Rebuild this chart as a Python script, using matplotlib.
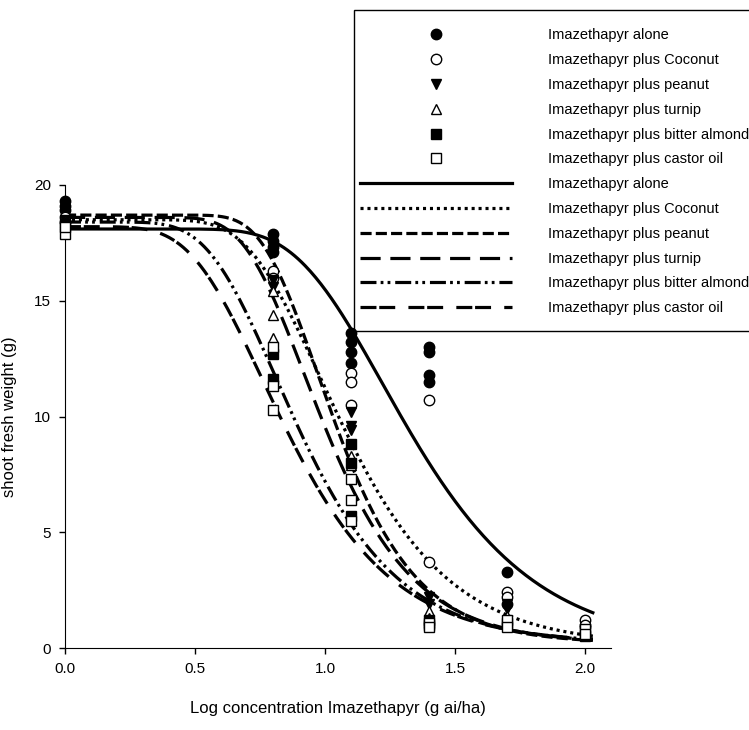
import numpy as np
import matplotlib.pyplot as plt
from matplotlib.patches import Rectangle

plt.rcParams['font.family'] = ['Liberation Sans', 'DejaVu Sans']
plt.rcParams['lines.scale_dashes'] = False

labels = ['Imazethapyr alone', 'Imazethapyr plus Coconut', 'Imazethapyr plus peanut',
          'Imazethapyr plus turnip', 'Imazethapyr plus bitter almond', 'Imazethapyr plus castor oil']

# observed shoot fresh weight (g) at log concentration
alone_x = [0, 0, 0, .8, .8, .8, .8, 1.1, 1.1, 1.1, 1.1, 1.4, 1.4, 1.4, 1.4, 1.7, 1.7, 2.0]
alone_y = [19.3, 19.1, 18.9, 17.9, 17.6, 17.3, 17.1, 13.6, 13.2, 12.8, 12.3, 13.0, 12.8, 11.8, 11.5, 3.3, 1.9, 0.9]
coconut_x = [0, 0, .8, .8, 1.1, 1.1, 1.1, 1.4, 1.4, 1.7, 1.7, 2.0, 2.0]
coconut_y = [18.6, 18.4, 16.3, 16.0, 11.9, 11.5, 10.5, 10.7, 3.7, 2.4, 2.2, 1.2, 1.0]
peanut_x = [0, .8, .8, 1.1, 1.1, 1.1, 1.4, 1.4, 1.7, 1.7, 2.0]
peanut_y = [18.5, 15.9, 15.6, 10.2, 9.6, 9.4, 2.2, 1.9, 1.9, 1.7, 0.5]
turnip_x = [0, .8, .8, .8, 1.1, 1.1, 1.4, 1.4, 1.7, 2.0]
turnip_y = [18.4, 15.4, 14.4, 13.4, 8.3, 7.9, 1.6, 1.3, 1.4, 0.7]
almond_x = [0, .8, .8, 1.1, 1.1, 1.1, 1.4, 1.4, 1.7, 2.0]
almond_y = [18.3, 12.7, 11.6, 8.8, 8.0, 5.7, 1.2, 1.0, 1.1, 0.5]
castor_x = [0, 0, .8, .8, .8, 1.1, 1.1, 1.1, 1.4, 1.4, 1.7, 1.7, 2.0, 2.0]
castor_y = [17.9, 18.2, 13.0, 11.3, 10.3, 7.3, 6.4, 5.5, 1.1, 0.9, 1.2, 0.9, 0.8, 0.6]

# fitted Weibull-type curves: upper, slope, location, lower
fit_top = [18.1, 18.5, 18.7, 18.6, 18.4, 18.2]
fit_slope = [3.0, 3.6, 4.7, 4.3, 3.8, 3.6]
fit_mid = [1.22, 0.98, 0.97, 0.92, 0.81, 0.76]
fit_low = [0.0, 0.1, 0.2, 0.2, 0.2, 0.2]

xs = [alone_x, coconut_x, peanut_x, turnip_x, almond_x, castor_x]
ys = [alone_y, coconut_y, peanut_y, turnip_y, almond_y, castor_y]
markers = ['o', 'o', 'v', '^', 's', 's']
faces = ['k', 'w', 'k', 'w', 'k', 'w']
styles = ['-', (0, (2.2, 2.8)), (0, (8, 3)), (0, (14.5, 7)),
          (0, (11.5, 3, 2, 3, 2, 3.5)), (0, (11.5, 2, 11.5, 9.5))]

fig = plt.figure(figsize=(7.49, 7.30), dpi=100)
ax = fig.add_axes([0.0868, 0.1123, 0.7290, 0.6343])

xc = np.linspace(0, 2.03, 300)
line_handles = []
for i in range(6):
    u = np.exp(-fit_slope[i] * (xc - fit_mid[i]))
    yc = fit_low[i] + (fit_top[i] - fit_low[i]) * (1 - np.exp(-u))
    l, = ax.plot(xc, yc, color='k', lw=2.3, linestyle=styles[i], dash_capstyle='butt', zorder=2)
    line_handles.append(l)

pt_handles = []
for i in range(6):
    p, = ax.plot(xs[i], ys[i], linestyle='none', marker=markers[i], ms=7.5,
                 mfc=faces[i], mec='k', mew=1, clip_on=False, zorder=3)
    pt_handles.append(p)

ax.set_xlim(0, 2.1)
ax.set_ylim(0, 20)
ax.set_xticks([0, 0.5, 1.0, 1.5, 2.0])
ax.set_xticklabels(['0.0', '0.5', '1.0', '1.5', '2.0'])
ax.set_yticks([0, 5, 10, 15, 20])
ax.spines['top'].set_visible(False)
ax.spines['right'].set_visible(False)
ax.tick_params(direction='out', length=4, width=1, labelsize=11, pad=6)
ax.set_xlabel('Log concentration Imazethapyr (g ai/ha)', fontsize=12, labelpad=18)
ax.set_ylabel('shoot fresh weight (g)', fontsize=12, labelpad=12)

# legend box, runs off the right edge like the original
fig.patches.append(Rectangle((354 / 749, 1 - 331 / 730), 0.6, (331 - 10) / 730,
                             transform=fig.transFigure, fill=False, ec='k', lw=1))
leg = fig.legend(pt_handles + line_handles, labels + labels, loc='upper left',
                 bbox_to_anchor=(360 / 749, 1 - 28.5 / 730), frameon=False, fontsize=10.5,
                 handlelength=10.4, handletextpad=2.47, labelspacing=0.74,
                 borderpad=0, borderaxespad=0, numpoints=1)

fig.savefig('out.png', dpi=100)
